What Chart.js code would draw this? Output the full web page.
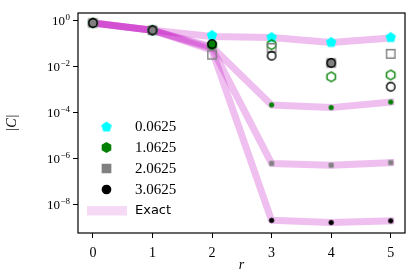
<!DOCTYPE html>
<html>
<head>
<meta charset="utf-8">
<script src="https://cdn.jsdelivr.net/npm/chart.js@4.4.0/dist/chart.umd.min.js"></script>
<style>
html, body { margin: 0; padding: 0; background: #fff; }
#wrap { width: 411px; height: 274px; }
</style>
</head>
<body>
<div id="wrap"><canvas id="chart" width="411" height="274"></canvas></div>
<script>
const distances = [0, 1, 2, 3, 4, 5];
const couplings = ["0.0625", "1.0625", "2.0625", "3.0625"];

// |C| from the simulation, one per coupling (big markers)
const measured0 = [0.77, 0.37, 0.22, 0.18, 0.11, 0.18];
const measured1 = [0.77, 0.37, 0.085, 0.087, 0.0035, 0.0042];
const measured2 = [0.77, 0.37, 0.032, 0.063, 0.014, 0.035];
const measured3 = [0.77, 0.37, 0.093, 0.029, 0.014, 0.0013];
// true = filled marker, false = open marker
const filled0 = [true, true, true, true, true, true];
const filled1 = [false, false, true, false, false, false];
const filled2 = [true, true, false, false, true, false];
const filled3 = [false, false, false, false, false, false];

// small markers at long distance
const smallDist = [3, 4, 5];
const small1 = [2.1e-4, 1.6e-4, 2.8e-4];
const small2 = [6e-7, 5e-7, 6.5e-7];
const small3 = [2e-9, 1.6e-9, 1.9e-9];

// exact curves
const exact0 = [0.77, 0.37, 0.2, 0.18, 0.11, 0.17];
const exact1 = [0.77, 0.37, 0.07, 2.1e-4, 1.6e-4, 2.8e-4];
const exact2 = [0.77, 0.37, 0.06, 6e-7, 5e-7, 6.5e-7];
const exact3 = [0.77, 0.37, 0.05, 2e-9, 1.6e-9, 1.9e-9];

const yTicks = [1, 1e-2, 1e-4, 1e-6, 1e-8];
const yTickExp = ["0", "\u22122", "\u22124", "\u22126", "\u22128"];

const SERIF = "'Liberation Serif', 'DejaVu Serif', serif";
const SANS = "'DejaVu Sans', sans-serif";
const exactColor = "rgba(191, 0, 191, 0.25)";

function marker(shape, face, edge, r, lw) {
    const s = Math.ceil(2 * (r + lw)) + 2;
    const cv = document.createElement("canvas");
    cv.width = s; cv.height = s;
    const ctx = cv.getContext("2d");
    const c = s / 2;
    ctx.beginPath();
    if (shape === "circle") {
        ctx.arc(c, c, r, 0, Math.PI * 2);
    } else if (shape === "square") {
        ctx.rect(c - r, c - r, 2 * r, 2 * r);
    } else {
        const n = shape === "pentagon" ? 5 : 6;
        for (let i = 0; i < n; i++) {
            const a = -Math.PI / 2 + i * 2 * Math.PI / n;
            const px = c + r * Math.cos(a), py = c + r * Math.sin(a);
            if (i === 0) ctx.moveTo(px, py); else ctx.lineTo(px, py);
        }
        ctx.closePath();
    }
    if (face) { ctx.fillStyle = face; ctx.fill(); }
    ctx.lineWidth = lw;
    ctx.lineJoin = "miter";
    ctx.strokeStyle = edge;
    ctx.stroke();
    return cv;
}

const styles = [
    { shape: "pentagon", color: "#00ffff", r: 4.7 },
    { shape: "hexagon", color: "#008000", r: 4.8 },
    { shape: "square", color: "#808080", r: 4.2 },
    { shape: "circle", color: "#000000", r: 4.2 }
];
const measured = [measured0, measured1, measured2, measured3];
const filled = [filled0, filled1, filled2, filled3];
const smalls = [null, small1, small2, small3];
const exacts = [exact0, exact1, exact2, exact3];

const legendMarkers = styles.map(s => marker(s.shape, s.color, s.color, s.r, 1.3));

const datasets = [];
exacts.forEach((vals, k) => {
    datasets.push({
        label: "Exact",
        data: distances.map((d, i) => ({ x: d, y: vals[i] })),
        showLine: true,
        borderColor: exactColor,
        borderWidth: 7,
        borderCapStyle: "square",
        borderJoinStyle: "round",
        pointRadius: 0,
        order: 20 + k
    });
});
measured.forEach((vals, k) => {
    const s = styles[k];
    const full = marker(s.shape, s.color, s.color, s.r, 1.3);
    const open = marker(s.shape, null, s.color, s.r, 1.4);
    datasets.push({
        label: couplings[k],
        data: distances.map((d, i) => ({ x: d, y: vals[i] })),
        showLine: false,
        pointStyle: filled[k].map(f => f ? full : open),
        pointRadius: 5,
        order: 10 - k
    });
    if (smalls[k]) {
        const dot = marker(s.shape === "hexagon" ? "circle" : s.shape, s.color, s.color, s.shape === "square" ? 2.1 : 2.3, 0.8);
        datasets.push({
            label: couplings[k] + " small",
            data: smallDist.map((d, i) => ({ x: d, y: smalls[k][i] })),
            showLine: false,
            pointStyle: dot,
            pointRadius: 3,
            order: 10 - k
        });
    }
});

const extras = {
    id: "extras",
    afterDatasetsDraw(chart) {
        const ctx = chart.ctx;
        const a = chart.chartArea;
        const ys = chart.scales.y;
        ctx.save();
        // frame
        ctx.strokeStyle = "#000";
        ctx.lineWidth = 1.2;
        ctx.strokeRect(a.left, a.top, a.right - a.left, a.bottom - a.top);

        // y tick labels 10^n
        ctx.fillStyle = "#000";
        ctx.textBaseline = "alphabetic";
        yTicks.forEach((v, i) => {
            const py = ys.getPixelForValue(v);
            ctx.font = "9px " + SERIF;
            const ew = ctx.measureText(yTickExp[i]).width;
            const ex = a.left - 8 - ew;
            ctx.textAlign = "left";
            ctx.fillText(yTickExp[i], ex, py - 0.5);
            ctx.font = "13px " + SERIF;
            ctx.textAlign = "right";
            ctx.fillText("10", ex - 0.5, py + 4.5);
        });

        // axis titles
        ctx.font = "italic 14px " + SERIF;
        ctx.textAlign = "center";
        ctx.textBaseline = "middle";
        ctx.fillText("r", (a.left + a.right) / 2, 265.5);
        ctx.save();
        ctx.translate(12.5, (a.top + a.bottom) / 2);
        ctx.rotate(-Math.PI / 2);
        ctx.fillText("|C|", 0, 0);
        ctx.restore();

        // legend
        const rows = [127, 147.5, 168.5, 189.5];
        rows.forEach((y, k) => {
            const m = legendMarkers[k];
            ctx.drawImage(m, 106.5 - m.width / 2, y - m.height / 2);
            ctx.font = "15px " + SERIF;
            ctx.textAlign = "left";
            ctx.textBaseline = "middle";
            ctx.fillText(couplings[k], 135, y + 0.5);
        });
        ctx.fillStyle = "rgba(191, 0, 191, 0.15)";
        ctx.fillRect(87, 206, 40, 9.5);
        ctx.fillStyle = "#000";
        ctx.font = "13px " + SANS;
        ctx.fillText("Exact", 135, 211);
        ctx.restore();
    }
};

new Chart(document.getElementById("chart"), {
    type: "scatter",
    data: { datasets: datasets },
    options: {
        responsive: false,
        animation: false,
        layout: { padding: { left: 0, right: 5, top: 13, bottom: 0 } },
        plugins: { legend: { display: false }, tooltip: { enabled: false } },
        scales: {
            x: {
                type: "linear",
                min: -0.25,
                max: 5.24,
                afterBuildTicks: scale => { scale.ticks = distances.map(d => ({ value: d })); },
                afterFit: scale => { scale.height = 41; },
                ticks: {
                    color: "#000",
                    font: { family: SERIF, size: 14 },
                    padding: 7,
                    maxRotation: 0,
                    callback: v => String(v)
                },
                grid: { drawOnChartArea: false, drawTicks: true, tickLength: 5, color: "#000", lineWidth: 1 },
                border: { display: false }
            },
            y: {
                type: "logarithmic",
                min: Math.pow(10, -9.25),
                max: Math.pow(10, 0.32),
                afterBuildTicks: scale => { scale.ticks = yTicks.map(v => ({ value: v })); },
                afterFit: scale => { scale.width = 78; },
                ticks: { display: false },
                grid: { drawOnChartArea: false, drawTicks: true, tickLength: 5, color: "#000", lineWidth: 1 },
                border: { display: false }
            }
        }
    },
    plugins: [extras]
});
</script>
</body>
</html>
